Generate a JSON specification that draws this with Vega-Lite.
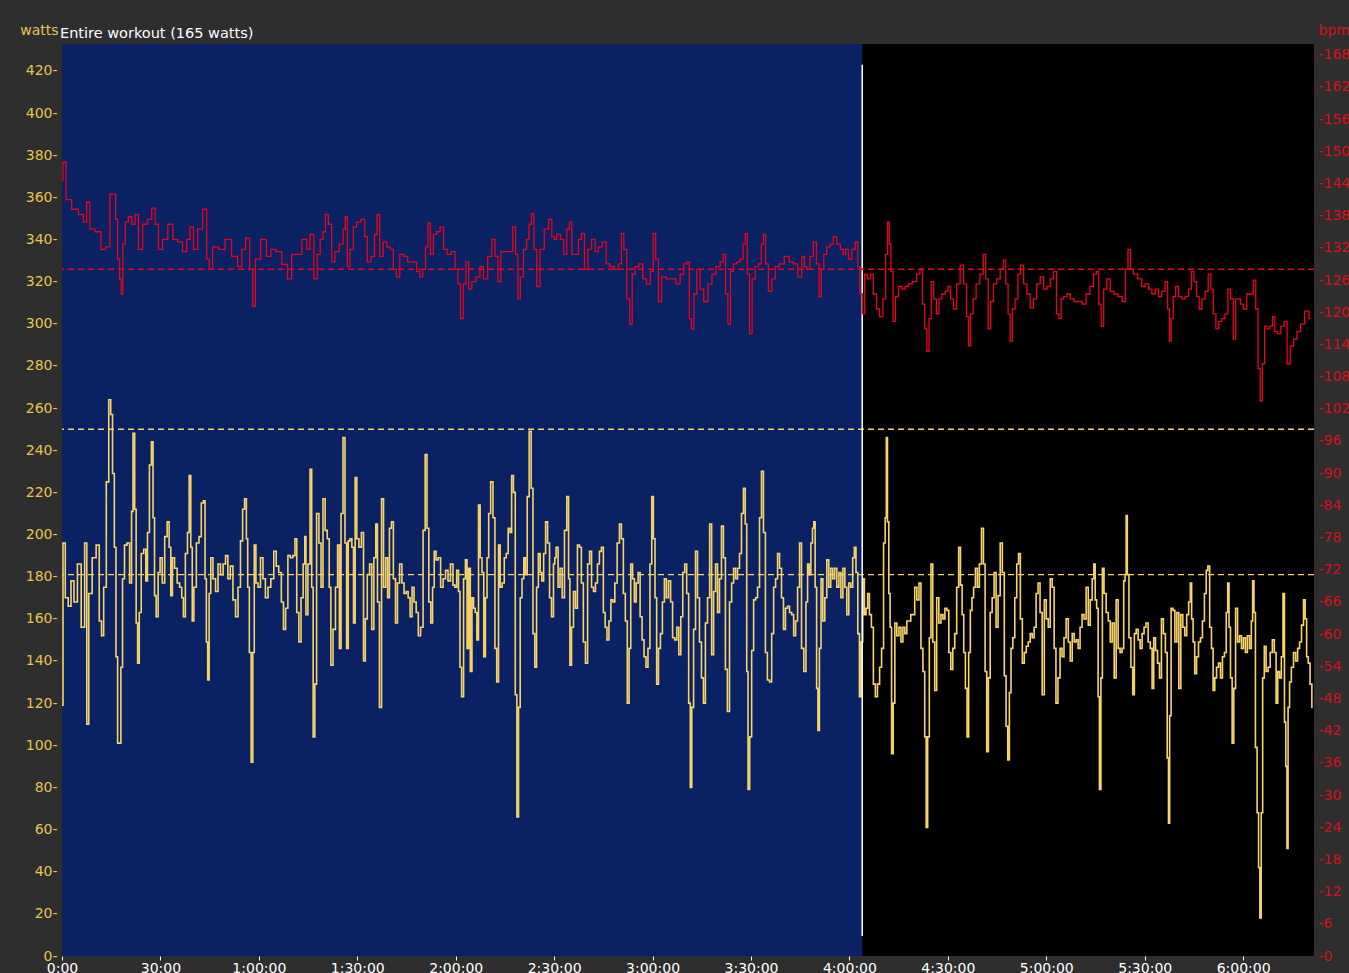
{
"$schema":"https://vega.github.io/schema/vega-lite/v6.json",
"width":1252,"height":912,
"autosize":{"type":"none"},
"padding":{"left":62,"top":44,"right":35,"bottom":17},
"background":"#2e2e2e",
"config":{"view":{"fill":"#000000","stroke":null},"font":"DejaVu Sans",
 "axisX":{"domain":false,"grid":false,"tickColor":"#ffffff","tickSize":4,"labelColor":"#ffffff","labelFontSize":14,"labelFont":"DejaVu Sans","labelPadding":1,"labelOverlap":false,"labelFlush":false},
 "axisY":{"domain":false,"grid":false,"ticks":false,"labelFontSize":14,"labelFont":"DejaVu Sans","labelOverlap":false,"labelFlush":false,"titleAngle":0,"titleBaseline":"middle","titleY":-14,"titleFontSize":14,"titleFontWeight":"normal","titleFont":"DejaVu Sans","titlePadding":0}
},
"title":{"text":"Entire workout (165 watts)","anchor":"start","frame":"group","color":"#ffffff","fontSize":14.5,"fontWeight":"normal","font":"DejaVu Sans","offset":5,"dx":-2,"dy":23},
"datasets":{
"pw":[
{"t":0,"w":119},{"t":0.6,"w":196},{"t":1.4,"w":170},{"t":2.4,"w":166},{"t":3.1,"w":178},{"t":4.2,"w":168},{"t":5.2,"w":186},{"t":6.5,"w":156},{"t":7.3,"w":196},{"t":7.8,"w":110},{"t":8.5,"w":172},{"t":9.9,"w":189},{"t":10.9,"w":195},{"t":11.8,"w":159},{"t":12.3,"w":152},{"t":13.1,"w":175},{"t":13.9,"w":225},{"t":14.6,"w":264},{"t":15.1,"w":257},{"t":15.7,"w":229},{"t":16.2,"w":194},{"t":16.7,"w":142},{"t":17.2,"w":101},{"t":17.7,"w":101},{"t":18.2,"w":137},{"t":18.7,"w":179},{"t":19.4,"w":195},{"t":20.2,"w":196},{"t":21.0,"w":177},{"t":21.4,"w":211},{"t":21.9,"w":248},{"t":22.4,"w":212},{"t":22.8,"w":158},{"t":23.3,"w":139},{"t":23.8,"w":163},{"t":24.5,"w":191},{"t":25.3,"w":193},{"t":25.8,"w":178},{"t":26.3,"w":201},{"t":27.0,"w":233},{"t":27.5,"w":244},{"t":28.0,"w":208},{"t":28.4,"w":171},{"t":29.0,"w":161},{"t":29.6,"w":182},{"t":30.2,"w":189},{"t":30.9,"w":177},{"t":31.7,"w":199},{"t":32.4,"w":206},{"t":32.9,"w":194},{"t":33.4,"w":171},{"t":33.9,"w":189},{"t":34.7,"w":184},{"t":35.5,"w":177},{"t":36.2,"w":175},{"t":36.8,"w":170},{"t":37.2,"w":161},{"t":38.0,"w":191},{"t":38.5,"w":201},{"t":39.0,"w":228},{"t":39.5,"w":194},{"t":39.9,"w":159},{"t":40.5,"w":175},{"t":41.4,"w":196},{"t":42.1,"w":199},{"t":42.8,"w":215},{"t":43.4,"w":216},{"t":43.8,"w":179},{"t":44.2,"w":149},{"t":44.6,"w":131},{"t":45.1,"w":172},{"t":45.6,"w":189},{"t":46.4,"w":179},{"t":47.2,"w":173},{"t":47.9,"w":186},{"t":48.7,"w":181},{"t":49.5,"w":186},{"t":50.2,"w":190},{"t":50.9,"w":179},{"t":51.7,"w":185},{"t":52.5,"w":169},{"t":53.3,"w":161},{"t":54.0,"w":175},{"t":54.8,"w":197},{"t":55.3,"w":212},{"t":56.0,"w":217},{"t":56.4,"w":198},{"t":56.8,"w":175},{"t":57.4,"w":144},{"t":57.9,"w":92},{"t":58.4,"w":144},{"t":58.8,"w":195},{"t":59.4,"w":177},{"t":60.1,"w":175},{"t":60.9,"w":189},{"t":61.6,"w":179},{"t":62.4,"w":170},{"t":63.2,"w":175},{"t":64.1,"w":179},{"t":65.0,"w":192},{"t":65.6,"w":185},{"t":66.5,"w":182},{"t":67.2,"w":168},{"t":67.8,"w":155},{"t":68.5,"w":165},{"t":69.2,"w":190},{"t":70.0,"w":189},{"t":70.7,"w":190},{"t":71.3,"w":198},{"t":71.8,"w":163},{"t":72.6,"w":149},{"t":73.1,"w":170},{"t":73.9,"w":186},
{"t":74.1,"w":199},{"t":74.6,"w":162},{"t":75.3,"w":186},{"t":75.9,"w":231},{"t":76.3,"w":175},{"t":76.8,"w":104},{"t":77.3,"w":129},{"t":77.9,"w":210},{"t":78.7,"w":196},{"t":79.2,"w":175},{"t":79.9,"w":217},{"t":80.5,"w":202},{"t":81.2,"w":198},{"t":81.7,"w":175},{"t":82.2,"w":138},{"t":83.0,"w":155},{"t":83.7,"w":175},{"t":84.3,"w":195},{"t":84.8,"w":146},{"t":85.3,"w":210},{"t":86.0,"w":246},{"t":86.5,"w":196},{"t":87.0,"w":146},{"t":87.5,"w":197},{"t":88.1,"w":198},{"t":88.6,"w":194},{"t":89.1,"w":158},{"t":89.6,"w":227},{"t":90.1,"w":198},{"t":90.9,"w":194},{"t":91.6,"w":201},{"t":92.2,"w":140},{"t":92.7,"w":160},{"t":93.4,"w":181},{"t":94.1,"w":186},{"t":94.7,"w":155},{"t":95.4,"w":189},{"t":95.9,"w":205},{"t":96.4,"w":168},{"t":97.1,"w":118},{"t":97.7,"w":217},{"t":98.3,"w":175},{"t":99.0,"w":189},{"t":99.5,"w":170},{"t":100.1,"w":203},{"t":100.7,"w":206},{"t":101.3,"w":179},{"t":102.0,"w":158},{"t":102.5,"w":177},{"t":103.3,"w":186},{"t":103.9,"w":177},{"t":104.6,"w":172},{"t":105.2,"w":173},{"t":105.8,"w":170},{"t":106.4,"w":161},{"t":107.0,"w":175},{"t":107.6,"w":168},{"t":108.3,"w":163},{"t":108.9,"w":152},{"t":109.7,"w":156},{"t":110.4,"w":202},{"t":111.0,"w":238},{"t":111.5,"w":203},{"t":112.1,"w":168},{"t":112.7,"w":158},{"t":113.2,"w":175},{"t":113.7,"w":192},{"t":114.3,"w":188},{"t":115.0,"w":189},{"t":115.8,"w":175},{"t":116.5,"w":179},{"t":117.3,"w":183},{"t":118.0,"w":178},{"t":118.8,"w":186},{"t":119.5,"w":176},{"t":120.0,"w":175},{"t":120.6,"w":183},{"t":121.1,"w":173},{"t":121.5,"w":137},{"t":122.1,"w":123},{"t":122.7,"w":179},{"t":123.2,"w":188},{"t":123.7,"w":146},{"t":124.2,"w":184},{"t":124.7,"w":135},{"t":125.2,"w":170},{"t":125.7,"w":165},{"t":126.2,"w":163},{"t":126.7,"w":150},{"t":127.2,"w":214},{"t":127.7,"w":189},{"t":128.3,"w":182},{"t":128.8,"w":142},{"t":129.3,"w":170},{"t":129.8,"w":189},{"t":130.3,"w":210},{"t":131.0,"w":225},{"t":131.7,"w":208},{"t":132.2,"w":146},{"t":132.8,"w":130},{"t":133.3,"w":195},{"t":133.8,"w":175},{"t":134.5,"w":177},{"t":135.1,"w":189},{"t":135.7,"w":191},{"t":136.3,"w":203},{"t":136.8,"w":201},{"t":137.3,"w":228},{"t":137.9,"w":220},{"t":138.4,"w":124},{"t":138.9,"w":66},{"t":139.4,"w":118},{"t":139.9,"w":170},{"t":140.5,"w":179},{"t":141.0,"w":189},{"t":141.5,"w":181},{"t":142.1,"w":218},{"t":142.7,"w":249},{"t":143.3,"w":222},{"t":143.8,"w":153},{"t":144.4,"w":137},{"t":144.9,"w":175},{"t":145.5,"w":191},{"t":146.0,"w":182},{"t":146.5,"w":178},{"t":147.1,"w":191},{"t":147.7,"w":206},{"t":148.3,"w":196},{"t":148.9,"w":170},{"t":149.5,"w":161},{"t":150.1,"w":186},
{"t":150.3,"w":189},{"t":150.9,"w":194},{"t":151.5,"w":175},{"t":152.1,"w":184},{"t":152.8,"w":170},{"t":153.5,"w":202},{"t":154.2,"w":218},{"t":154.6,"w":179},{"t":155.0,"w":138},{"t":155.6,"w":156},{"t":156.2,"w":173},{"t":156.8,"w":165},{"t":157.4,"w":195},{"t":158.0,"w":194},{"t":158.6,"w":177},{"t":159.2,"w":149},{"t":159.9,"w":139},{"t":160.5,"w":186},{"t":161.1,"w":192},{"t":161.7,"w":175},{"t":162.3,"w":173},{"t":162.9,"w":177},{"t":163.5,"w":186},{"t":164.1,"w":192},{"t":164.7,"w":194},{"t":165.3,"w":163},{"t":165.8,"w":156},{"t":166.4,"w":150},{"t":167.0,"w":159},{"t":167.6,"w":169},{"t":168.2,"w":168},{"t":168.8,"w":177},{"t":169.6,"w":196},{"t":170.2,"w":205},{"t":170.8,"w":198},{"t":171.4,"w":172},{"t":172.0,"w":159},{"t":172.6,"w":120},{"t":173.1,"w":146},{"t":173.6,"w":186},{"t":174.2,"w":179},{"t":174.7,"w":168},{"t":175.3,"w":177},{"t":175.9,"w":182},{"t":176.5,"w":161},{"t":177.1,"w":150},{"t":177.7,"w":142},{"t":178.3,"w":137},{"t":178.9,"w":146},{"t":179.5,"w":186},{"t":180.0,"w":218},{"t":180.5,"w":198},{"t":181.0,"w":170},{"t":181.5,"w":129},{"t":182.1,"w":146},{"t":182.7,"w":153},{"t":183.3,"w":168},{"t":183.9,"w":179},{"t":184.5,"w":170},{"t":185.2,"w":178},{"t":185.8,"w":168},{"t":186.4,"w":151},{"t":187.1,"w":150},{"t":187.7,"w":156},{"t":188.3,"w":143},{"t":188.9,"w":161},{"t":189.5,"w":182},{"t":190.1,"w":186},{"t":190.7,"w":172},{"t":191.3,"w":120},{"t":191.7,"w":80},{"t":192.2,"w":118},{"t":192.8,"w":155},{"t":193.4,"w":192},{"t":194.0,"w":170},{"t":194.6,"w":149},{"t":195.2,"w":132},{"t":195.8,"w":120},{"t":196.4,"w":158},{"t":197.1,"w":170},{"t":197.7,"w":205},{"t":198.3,"w":143},{"t":198.9,"w":173},{"t":199.5,"w":186},{"t":200.1,"w":163},{"t":200.7,"w":179},{"t":201.3,"w":204},{"t":201.9,"w":189},{"t":202.5,"w":136},{"t":203.1,"w":116},{"t":203.8,"w":168},{"t":204.4,"w":177},{"t":205.0,"w":184},{"t":205.6,"w":179},{"t":206.2,"w":184},{"t":206.8,"w":191},{"t":207.4,"w":210},{"t":208.0,"w":222},{"t":208.5,"w":205},{"t":208.9,"w":135},{"t":209.3,"w":79},{"t":209.9,"w":104},{"t":210.5,"w":145},{"t":211.1,"w":169},{"t":211.7,"w":170},{"t":212.3,"w":175},{"t":212.9,"w":208},{"t":213.5,"w":230},{"t":214.1,"w":201},{"t":214.7,"w":144},{"t":215.3,"w":131},{"t":216.0,"w":130},{"t":216.6,"w":153},{"t":217.2,"w":175},{"t":217.8,"w":179},{"t":218.4,"w":191},{"t":219.0,"w":184},{"t":219.6,"w":170},{"t":220.2,"w":155},{"t":220.8,"w":165},{"t":221.4,"w":166},{"t":222.1,"w":163},{"t":222.7,"w":162},{"t":223.3,"w":152},{"t":223.9,"w":159},{"t":224.5,"w":175},{"t":225.1,"w":196},{"t":225.7,"w":146},
{"t":226.5,"w":135},{"t":227.0,"w":168},{"t":227.5,"w":186},{"t":228.0,"w":181},{"t":228.5,"w":196},{"t":229.0,"w":203},{"t":229.3,"w":206},{"t":229.8,"w":175},{"t":230.2,"w":127},{"t":230.6,"w":107},{"t":231.1,"w":146},{"t":231.6,"w":179},{"t":232.2,"w":159},{"t":232.8,"w":170},{"t":233.4,"w":188},{"t":234.0,"w":175},{"t":234.6,"w":184},{"t":235.2,"w":179},{"t":235.8,"w":184},{"t":236.5,"w":175},{"t":237.1,"w":182},{"t":237.7,"w":170},{"t":238.3,"w":184},{"t":238.9,"w":175},{"t":239.5,"w":162},{"t":240.1,"w":177},{"t":240.7,"w":175},{"t":241.3,"w":189},{"t":241.7,"w":194},{"t":242.3,"w":182},{"t":242.8,"w":153},{"t":243.3,"w":123},{"t":243.8,"w":149},{"t":244.3,"w":179},{"t":244.8,"w":162},{"t":245.3,"w":165},{"t":245.8,"w":172},{"t":246.4,"w":162},{"t":247.0,"w":156},{"t":247.6,"w":129},{"t":248.2,"w":123},{"t":248.9,"w":129},{"t":249.5,"w":137},{"t":250.1,"w":146},{"t":250.7,"w":196},{"t":251.1,"w":208},{"t":251.4,"w":246},{"t":251.8,"w":206},{"t":252.2,"w":172},{"t":252.6,"w":156},{"t":253.1,"w":96},{"t":253.6,"w":120},{"t":254.1,"w":158},{"t":254.8,"w":152},{"t":255.4,"w":156},{"t":256.0,"w":149},{"t":256.6,"w":156},{"t":257.2,"w":153},{"t":257.8,"w":159},{"t":258.4,"w":159},{"t":259.0,"w":162},{"t":259.6,"w":162},{"t":260.2,"w":175},{"t":260.9,"w":169},{"t":261.5,"w":177},{"t":262.1,"w":146},{"t":262.7,"w":135},{"t":263.2,"w":104},{"t":263.6,"w":61},{"t":264.1,"w":104},{"t":264.6,"w":151},{"t":265.1,"w":186},{"t":265.7,"w":149},{"t":266.3,"w":126},{"t":266.9,"w":170},{"t":267.6,"w":158},{"t":268.2,"w":162},{"t":268.8,"w":160},{"t":269.4,"w":165},{"t":270.0,"w":164},{"t":270.6,"w":144},{"t":271.2,"w":136},{"t":271.8,"w":146},{"t":272.4,"w":153},{"t":273.0,"w":175},{"t":273.6,"w":194},{"t":274.1,"w":176},{"t":274.6,"w":162},{"t":275.1,"w":144},{"t":275.6,"w":127},{"t":276.1,"w":104},{"t":276.6,"w":144},{"t":277.1,"w":164},{"t":277.6,"w":170},{"t":278.1,"w":175},{"t":278.7,"w":184},{"t":279.3,"w":175},{"t":279.9,"w":186},{"t":280.6,"w":203},{"t":281.1,"w":186},{"t":281.6,"w":135},{"t":282.1,"w":97},{"t":282.6,"w":132},{"t":283.2,"w":163},{"t":283.8,"w":170},{"t":284.4,"w":182},{"t":285.0,"w":156},{"t":285.6,"w":171},{"t":286.3,"w":196},{"t":286.9,"w":182},{"t":287.5,"w":133},{"t":288.0,"w":109},{"t":288.5,"w":93},{"t":289.0,"w":125},{"t":289.5,"w":146},{"t":290.1,"w":151},{"t":290.7,"w":170},{"t":291.3,"w":186},{"t":291.8,"w":191},{"t":292.4,"w":160},{"t":293.0,"w":139},{"t":293.6,"w":144},{"t":294.2,"w":147},{"t":294.8,"w":149},{"t":295.4,"w":153},{"t":296.0,"w":151},{"t":296.6,"w":156},{"t":297.2,"w":172},{"t":297.8,"w":177},{"t":298.4,"w":163},{"t":299.1,"w":124},{"t":299.7,"w":169},{"t":300.3,"w":160},{"t":300.9,"w":156},{"t":301.5,"w":179},{"t":302.1,"w":175},
{"t":302.7,"w":146},{"t":303.2,"w":120},{"t":303.9,"w":132},{"t":304.5,"w":146},{"t":305.1,"w":142},{"t":305.7,"w":151},{"t":306.4,"w":160},{"t":307.0,"w":149},{"t":307.6,"w":140},{"t":308.2,"w":153},{"t":308.8,"w":149},{"t":309.4,"w":150},{"t":310.0,"w":146},{"t":310.6,"w":156},{"t":311.2,"w":162},{"t":311.8,"w":160},{"t":312.5,"w":175},{"t":313.1,"w":157},{"t":313.7,"w":169},{"t":314.3,"w":179},{"t":314.7,"w":186},{"t":315.1,"w":169},{"t":315.6,"w":165},{"t":316.0,"w":123},{"t":316.4,"w":79},{"t":316.9,"w":132},{"t":317.3,"w":184},{"t":317.9,"w":172},{"t":318.6,"w":163},{"t":319.2,"w":159},{"t":319.8,"w":149},{"t":320.4,"w":158},{"t":321.0,"w":132},{"t":321.6,"w":169},{"t":322.2,"w":146},{"t":322.8,"w":144},{"t":323.4,"w":146},{"t":323.8,"w":178},{"t":324.2,"w":181},{"t":324.5,"w":209},{"t":324.9,"w":181},{"t":325.5,"w":151},{"t":326.1,"w":137},{"t":326.6,"w":124},{"t":327.1,"w":153},{"t":327.7,"w":155},{"t":328.3,"w":150},{"t":328.9,"w":146},{"t":329.5,"w":153},{"t":330.1,"w":156},{"t":330.7,"w":158},{"t":331.4,"w":149},{"t":332.0,"w":146},{"t":332.5,"w":127},{"t":333.0,"w":151},{"t":333.6,"w":145},{"t":334.2,"w":139},{"t":334.8,"w":132},{"t":335.4,"w":160},{"t":336.0,"w":153},{"t":336.6,"w":144},{"t":337.1,"w":94},{"t":337.4,"w":63},{"t":337.8,"w":114},{"t":338.3,"w":165},{"t":338.9,"w":164},{"t":339.5,"w":149},{"t":340.1,"w":163},{"t":340.7,"w":127},{"t":341.3,"w":162},{"t":341.9,"w":156},{"t":342.5,"w":152},{"t":343.1,"w":162},{"t":343.7,"w":168},{"t":344.1,"w":177},{"t":344.5,"w":160},{"t":345.0,"w":149},{"t":345.5,"w":134},{"t":346.1,"w":142},{"t":346.7,"w":149},{"t":347.3,"w":151},{"t":347.9,"w":159},{"t":348.5,"w":172},{"t":349.0,"w":183},{"t":349.5,"w":185},{"t":350.1,"w":156},{"t":350.6,"w":146},{"t":351.1,"w":126},{"t":351.6,"w":132},{"t":352.2,"w":137},{"t":352.8,"w":139},{"t":353.4,"w":132},{"t":354.0,"w":142},{"t":354.6,"w":144},{"t":355.1,"w":163},{"t":355.5,"w":177},{"t":355.9,"w":156},{"t":356.4,"w":132},{"t":356.9,"w":101},{"t":357.4,"w":127},{"t":358.0,"w":165},{"t":358.6,"w":149},{"t":359.2,"w":152},{"t":359.8,"w":146},{"t":360.4,"w":151},{"t":361.0,"w":144},{"t":361.6,"w":152},{"t":362.3,"w":146},{"t":362.7,"w":159},{"t":363.1,"w":178},{"t":363.5,"w":163},{"t":364.0,"w":99},{"t":364.5,"w":68},{"t":364.9,"w":42},{"t":365.3,"w":18},{"t":365.7,"w":68},{"t":366.2,"w":132},{"t":366.7,"w":147},{"t":367.3,"w":135},{"t":367.9,"w":137},{"t":368.6,"w":144},{"t":369.2,"w":150},{"t":369.8,"w":144},{"t":370.3,"w":120},{"t":370.8,"w":135},{"t":371.4,"w":132},{"t":371.9,"w":142},{"t":372.4,"w":172},{"t":372.8,"w":111},{"t":373.2,"w":90},{"t":373.5,"w":51},{"t":373.9,"w":118},{"t":374.4,"w":130},{"t":375.0,"w":137},{"t":375.7,"w":144},{"t":376.3,"w":140},{"t":376.9,"w":146},{"t":377.5,"w":149},{"t":378.1,"w":157},{"t":378.7,"w":169},{"t":379.1,"w":160},{"t":379.6,"w":142},{"t":380.1,"w":139},{"t":380.7,"w":129},{"t":381.2,"w":118}
],
"hr":[
{"t":0,"b":144.7},{"t":0.6,"b":148},{"t":1.9,"b":141},{"t":4.0,"b":139.2},{"t":6.0,"b":138.2},{"t":7.0,"b":136.8},{"t":8.0,"b":140.5},{"t":9.0,"b":135.5},{"t":11.1,"b":135},{"t":12.6,"b":131.7},{"t":14.1,"b":132.2},{"t":15.1,"b":142},{"t":16.0,"b":142},{"t":16.7,"b":137.3},{"t":17.2,"b":129.9},{"t":17.9,"b":126.2},{"t":18.2,"b":123.4},{"t":18.9,"b":132.7},{"t":19.7,"b":136.8},{"t":20.7,"b":137.8},{"t":21.8,"b":136.4},{"t":22.8,"b":138.2},{"t":23.8,"b":131.7},{"t":25.3,"b":136.4},{"t":26.8,"b":137.3},{"t":27.9,"b":139.4},{"t":28.9,"b":136.4},{"t":29.9,"b":131.7},{"t":31.4,"b":133.6},{"t":33.1,"b":136.4},{"t":34.5,"b":133.6},{"t":36.0,"b":133.1},{"t":37.5,"b":131.3},{"t":38.5,"b":133.6},{"t":39.5,"b":135.9},{"t":40.6,"b":131.7},{"t":42.1,"b":135.5},{"t":43.6,"b":139.2},{"t":44.6,"b":129.9},{"t":45.1,"b":128},{"t":46.7,"b":132.2},{"t":48.7,"b":131.7},{"t":50.7,"b":133.6},{"t":52.7,"b":130.4},{"t":54.3,"b":128.5},{"t":55.3,"b":131.7},{"t":56.6,"b":133.8},{"t":57.8,"b":128},{"t":58.5,"b":121.1},{"t":59.4,"b":129.9},{"t":61.7,"b":133.6},{"t":62.9,"b":130.4},{"t":64.4,"b":131.7},{"t":66.0,"b":131.3},{"t":68.0,"b":128.9},{"t":69.5,"b":126.2},{"t":70.5,"b":130.8},{"t":72.1,"b":130.8},
{"t":74.1,"b":133.6},{"t":75.1,"b":131.7},{"t":76.1,"b":134.5},{"t":77.4,"b":126.2},{"t":78.2,"b":130.8},{"t":79.2,"b":133.6},{"t":79.9,"b":135.0},{"t":80.7,"b":138.2},{"t":81.7,"b":136.4},{"t":82.7,"b":129.4},{"t":83.7,"b":131.3},{"t":85.3,"b":132.7},{"t":86.1,"b":135.5},{"t":86.6,"b":137.8},{"t":87.3,"b":128.5},{"t":88.3,"b":131.7},{"t":89.3,"b":135.9},{"t":90.3,"b":136.8},{"t":91.9,"b":137.3},{"t":92.7,"b":134.1},{"t":93.4,"b":129.4},{"t":94.9,"b":130.4},{"t":95.6,"b":134.5},{"t":96.4,"b":138.2},{"t":97.3,"b":130.4},{"t":98.5,"b":133.1},{"t":99.5,"b":132.2},{"t":100.5,"b":131.7},{"t":101.5,"b":128.0},{"t":102.3,"b":126.6},{"t":103.6,"b":130.8},{"t":104.6,"b":130.4},{"t":106.1,"b":129.4},{"t":107.6,"b":129.4},{"t":108.6,"b":127.6},{"t":109.5,"b":126.6},{"t":110.4,"b":128.0},{"t":111.2,"b":132.2},{"t":111.9,"b":136.6},{"t":112.7,"b":130.8},{"t":113.7,"b":134.5},{"t":114.7,"b":135.0},{"t":115.8,"b":135.9},{"t":116.8,"b":131.7},{"t":118.0,"b":130.8},{"t":119.3,"b":131.3},{"t":120.3,"b":128.0},{"t":121.0,"b":125.3},{"t":121.9,"b":118.8},{"t":122.7,"b":125.3},{"t":123.5,"b":129.4},{"t":124.4,"b":124.3},{"t":125.4,"b":125.7},{"t":126.9,"b":126.6},{"t":127.9,"b":128.5},{"t":129.0,"b":126.2},{"t":130.5,"b":130.4},{"t":131.5,"b":133.6},{"t":132.5,"b":130.4},{"t":133.2,"b":125.7},{"t":134.3,"b":131.3},{"t":135.6,"b":131.3},{"t":136.9,"b":131.3},{"t":137.9,"b":135.9},{"t":138.6,"b":130.8},{"t":139.3,"b":122.5},{"t":140.1,"b":126.6},{"t":141.2,"b":131.7},{"t":142.0,"b":133.6},{"t":142.7,"b":136.4},{"t":143.5,"b":138.4},{"t":144.2,"b":131.7},{"t":145.2,"b":124.8},{"t":146.2,"b":131.7},{"t":147.8,"b":135.5},{"t":148.8,"b":137.3},{"t":149.8,"b":134.1},
{"t":150.3,"b":133.6},{"t":151.3,"b":134.5},{"t":152.5,"b":133.6},{"t":153.3,"b":130.8},{"t":154.4,"b":135.5},{"t":154.9,"b":136.8},{"t":155.9,"b":130.8},{"t":156.9,"b":130.8},{"t":157.9,"b":133.6},{"t":158.7,"b":134.7},{"t":159.8,"b":128.0},{"t":160.8,"b":131.7},{"t":162.0,"b":133.6},{"t":163.0,"b":131.3},{"t":164.0,"b":132.2},{"t":165.3,"b":133.1},{"t":166.4,"b":129.0},{"t":167.6,"b":128.5},{"t":169.1,"b":128.0},{"t":170.1,"b":129.0},{"t":170.9,"b":134.7},{"t":171.6,"b":131.7},{"t":172.7,"b":122.5},{"t":173.4,"b":117.8},{"t":174.2,"b":127.1},{"t":175.2,"b":128.5},{"t":176.5,"b":129.0},{"t":177.5,"b":126.2},{"t":178.8,"b":125.3},{"t":179.8,"b":127.6},{"t":180.6,"b":134.7},{"t":181.3,"b":129.9},{"t":182.3,"b":122.0},{"t":183.3,"b":126.6},{"t":184.9,"b":126.2},{"t":186.4,"b":126.2},{"t":187.9,"b":125.3},{"t":188.9,"b":127.1},{"t":190.1,"b":129.0},{"t":190.9,"b":129.4},{"t":191.5,"b":118.8},{"t":192.2,"b":116.9},{"t":193.0,"b":123.4},{"t":194.0,"b":128.0},{"t":195.0,"b":124.3},{"t":196.2,"b":122.0},{"t":197.6,"b":125.3},{"t":198.6,"b":127.1},{"t":200.1,"b":128.5},{"t":201.1,"b":129.4},{"t":201.9,"b":130.8},{"t":202.6,"b":123.4},{"t":203.3,"b":117.8},{"t":204.2,"b":127.6},{"t":205.2,"b":129.0},{"t":206.2,"b":129.4},{"t":207.2,"b":129.9},{"t":208.0,"b":132.7},{"t":208.5,"b":134.7},{"t":209.2,"b":127.1},{"t":209.9,"b":116.0},{"t":210.8,"b":126.2},{"t":211.8,"b":128.5},{"t":212.8,"b":129.0},{"t":213.5,"b":132.7},{"t":214.1,"b":134.5},{"t":214.8,"b":129.0},{"t":215.8,"b":123.9},{"t":216.9,"b":126.2},{"t":217.9,"b":128.5},{"t":219.4,"b":129.0},{"t":220.9,"b":130.4},{"t":222.3,"b":129.4},{"t":223.5,"b":129.0},{"t":225.0,"b":126.6},{"t":226.0,"b":130.4},
{"t":226.5,"b":128.5},{"t":227.5,"b":128.0},{"t":228.5,"b":130.4},{"t":229.5,"b":133.1},{"t":230.4,"b":129.0},{"t":231.1,"b":122.9},{"t":231.8,"b":128.0},{"t":232.6,"b":130.8},{"t":233.6,"b":132.2},{"t":234.6,"b":132.7},{"t":235.6,"b":134.1},{"t":236.7,"b":132.7},{"t":237.7,"b":131.7},{"t":238.5,"b":130.8},{"t":239.2,"b":131.7},{"t":240.2,"b":129.9},{"t":241.2,"b":131.7},{"t":242.3,"b":133.1},{"t":242.8,"b":128.5},{"t":243.6,"b":123.4},{"t":244.3,"b":119.7},{"t":245.0,"b":127.1},{"t":246.0,"b":126.2},{"t":246.8,"b":127.1},{"t":247.8,"b":123.4},{"t":248.7,"b":120.6},{"t":249.7,"b":119.2},{"t":250.7,"b":122.5},{"t":251.4,"b":130.8},{"t":251.9,"b":136.8},{"t":252.4,"b":132.7},{"t":252.9,"b":127.6},{"t":253.7,"b":118.3},{"t":254.4,"b":122.9},{"t":255.5,"b":124.8},{"t":256.5,"b":124.3},{"t":257.5,"b":124.8},{"t":258.5,"b":125.3},{"t":259.8,"b":125.7},{"t":261.1,"b":127.1},{"t":261.9,"b":128.0},{"t":262.6,"b":121.5},{"t":263.3,"b":116.9},{"t":263.9,"b":112.7},{"t":264.6,"b":118.8},{"t":265.3,"b":125.7},{"t":266.1,"b":122.5},{"t":266.9,"b":119.7},{"t":267.7,"b":122.5},{"t":268.7,"b":123.4},{"t":269.7,"b":123.9},{"t":270.4,"b":124.8},{"t":271.2,"b":122.5},{"t":272.2,"b":120.6},{"t":273.2,"b":125.3},{"t":274.3,"b":128.8},{"t":275.3,"b":125.3},{"t":276.1,"b":119.2},{"t":276.5,"b":113.7},{"t":277.3,"b":119.7},{"t":278.1,"b":122.5},{"t":279.1,"b":125.3},{"t":280.4,"b":127.1},{"t":281.2,"b":130.8},{"t":281.9,"b":126.2},{"t":282.7,"b":116.9},{"t":283.4,"b":122.0},{"t":284.4,"b":125.3},{"t":285.4,"b":126.2},{"t":286.5,"b":128.0},{"t":287.3,"b":129.7},{"t":288.0,"b":125.3},{"t":288.7,"b":119.7},{"t":289.3,"b":114.6},{"t":290.0,"b":120.6},{"t":291.0,"b":122.5},{"t":291.7,"b":127.1},{"t":292.6,"b":128.8},{"t":293.6,"b":125.3},{"t":294.6,"b":123.4},{"t":295.6,"b":120.8},{"t":296.6,"b":122.5},{"t":297.6,"b":125.3},{"t":298.7,"b":126.6},{"t":299.7,"b":124.3},{"t":300.7,"b":124.8},{"t":301.7,"b":126.2},
{"t":302.7,"b":127.6},{"t":303.5,"b":119.7},{"t":304.2,"b":118.8},{"t":304.9,"b":122.5},{"t":305.7,"b":122.9},{"t":306.8,"b":123.4},{"t":307.8,"b":122.5},{"t":309.0,"b":122.0},{"t":310.3,"b":122.0},{"t":311.6,"b":121.5},{"t":312.7,"b":123.4},{"t":313.9,"b":124.8},{"t":314.9,"b":127.1},{"t":315.6,"b":127.6},{"t":316.4,"b":121.5},{"t":317.1,"b":117.4},{"t":317.9,"b":124.3},{"t":319.0,"b":126.2},{"t":320.0,"b":123.9},{"t":321.2,"b":123.4},{"t":322.5,"b":122.9},{"t":323.8,"b":122.0},{"t":324.5,"b":128.0},{"t":325.3,"b":131.7},{"t":326.0,"b":128.0},{"t":327.1,"b":127.1},{"t":328.6,"b":126.2},{"t":329.6,"b":124.8},{"t":330.6,"b":125.3},{"t":331.7,"b":124.3},{"t":332.7,"b":123.4},{"t":333.7,"b":124.3},{"t":334.7,"b":122.9},{"t":335.7,"b":123.9},{"t":336.7,"b":125.7},{"t":337.3,"b":120.6},{"t":337.8,"b":114.6},{"t":338.3,"b":118.8},{"t":339.1,"b":122.9},{"t":339.8,"b":124.8},{"t":340.8,"b":122.9},{"t":341.8,"b":122.5},{"t":342.8,"b":122.9},{"t":343.9,"b":124.3},{"t":344.6,"b":127.6},{"t":345.4,"b":125.7},{"t":346.2,"b":122.9},{"t":347.0,"b":120.6},{"t":347.9,"b":122.5},{"t":348.9,"b":123.9},{"t":349.8,"b":127.1},{"t":350.5,"b":124.3},{"t":351.3,"b":119.7},{"t":352.1,"b":116.9},{"t":353.0,"b":118.3},{"t":354.0,"b":118.8},{"t":355.0,"b":119.7},{"t":355.7,"b":124.3},{"t":356.6,"b":122.5},{"t":357.4,"b":115.0},{"t":358.1,"b":122.5},{"t":358.8,"b":122.5},{"t":359.6,"b":121.5},{"t":360.6,"b":120.6},{"t":361.6,"b":123.4},{"t":362.7,"b":123.4},{"t":363.5,"b":126.0},{"t":364.2,"b":120.6},{"t":364.9,"b":109.5},{"t":365.5,"b":103.5},{"t":366.2,"b":110.4},{"t":366.9,"b":117.4},{"t":367.7,"b":116.9},{"t":368.6,"b":117.4},{"t":369.3,"b":119.2},{"t":370.0,"b":116.4},{"t":371.0,"b":116.0},{"t":372.0,"b":117.4},{"t":373.0,"b":118.3},{"t":373.8,"b":110.4},{"t":374.9,"b":113.7},{"t":375.9,"b":115.0},{"t":376.9,"b":116.4},{"t":378.1,"b":117.8},{"t":379.4,"b":120.2},{"t":380.7,"b":118.8}
],
"bg":[{"a":0,"b":243.9}]
},
"layer":[
{"layer":[
{"data":{"name":"bg"},"mark":{"type":"rect","color":"#0a2163"},
 "encoding":{"x":{"field":"a","type":"quantitative","scale":{"domain":[0,381.6]},
   "axis":{"values":[0,30,60,90,120,150,180,210,240,270,300,330,360],"labelExpr":"datum.value < 60 ? datum.value + ':00' : floor(datum.value/60) + ':' + (datum.value % 60 == 0 ? '00' : datum.value % 60) + ':00'","title":null}},
  "x2":{"field":"b"}}},
{"data":{"name":"pw"},"mark":{"type":"line","color":"#f8d468","strokeWidth":1.6,"interpolate":"step"},
 "encoding":{"x":{"field":"t","type":"quantitative","scale":{"domain":[0,381.6]},
   "axis":{"values":[0,30,60,90,120,150,180,210,240,270,300,330,360],"labelExpr":"datum.value < 60 ? datum.value + ':00' : floor(datum.value/60) + ':' + (datum.value % 60 == 0 ? '00' : datum.value % 60) + ':00'","title":null}},
  "y":{"field":"w","type":"quantitative","scale":{"domain":[0,432.8]},
   "axis":{"values":[0,20,40,60,80,100,120,140,160,180,200,220,240,260,280,300,320,340,360,380,400,420],"labelExpr":"datum.label + '-'","labelPadding":5,"title":"watts","titleAlign":"right","titleX":-4,"titleColor":"#e8c44e","labelColor":"#e8c44e"}}}},
{"data":{"values":[{}]},"mark":{"type":"rule","color":"#f8d468","strokeDash":[6,4],"strokeWidth":1.4},
 "encoding":{"y":{"datum":250,"type":"quantitative","scale":{"domain":[0,432.8]},
   "axis":{"values":[0,20,40,60,80,100,120,140,160,180,200,220,240,260,280,300,320,340,360,380,400,420],"labelExpr":"datum.label + '-'","labelPadding":5,"title":"watts","titleAlign":"right","titleX":-4,"titleColor":"#e8c44e","labelColor":"#e8c44e"}}}},
{"data":{"values":[{}]},"mark":{"type":"rule","color":"#f8d468","strokeDash":[6,4],"strokeWidth":1.4},
 "encoding":{"y":{"datum":181,"type":"quantitative","scale":{"domain":[0,432.8]},
   "axis":{"values":[0,20,40,60,80,100,120,140,160,180,200,220,240,260,280,300,320,340,360,380,400,420],"labelExpr":"datum.label + '-'","labelPadding":5,"title":"watts","titleAlign":"right","titleX":-4,"titleColor":"#e8c44e","labelColor":"#e8c44e"}}}},
{"data":{"values":[{}]},"mark":{"type":"rule","color":"#ffffff","strokeWidth":1.5},
 "encoding":{"x":{"datum":243.9,"type":"quantitative","scale":{"domain":[0,381.6]},
   "axis":{"values":[0,30,60,90,120,150,180,210,240,270,300,330,360],"labelExpr":"datum.value < 60 ? datum.value + ':00' : floor(datum.value/60) + ':' + (datum.value % 60 == 0 ? '00' : datum.value % 60) + ':00'","title":null}},
  "y":{"datum":9.5,"type":"quantitative","scale":{"domain":[0,432.8]},
   "axis":{"values":[0,20,40,60,80,100,120,140,160,180,200,220,240,260,280,300,320,340,360,380,400,420],"labelExpr":"datum.label + '-'","labelPadding":5,"title":"watts","titleAlign":"right","titleX":-4,"titleColor":"#e8c44e","labelColor":"#e8c44e"}},
  "y2":{"datum":423}}}
]},
{"layer":[
{"data":{"name":"hr"},"mark":{"type":"line","color":"#e4061c","strokeWidth":1.3,"interpolate":"step"},
 "encoding":{"x":{"field":"t","type":"quantitative","scale":{"domain":[0,381.6]},
   "axis":{"values":[0,30,60,90,120,150,180,210,240,270,300,330,360],"labelExpr":"datum.value < 60 ? datum.value + ':00' : floor(datum.value/60) + ':' + (datum.value % 60 == 0 ? '00' : datum.value % 60) + ':00'","title":null}},
  "y":{"field":"b","type":"quantitative","scale":{"domain":[0,170]},
   "axis":{"orient":"right","values":[0,6,12,18,24,30,36,42,48,54,60,66,72,78,84,90,96,102,108,114,120,126,132,138,144,150,156,162,168],"labelExpr":"'-' + datum.label","labelPadding":4,"title":"bpm","titleAlign":"left","titleX":4,"titleColor":"#d8101c","labelColor":"#d8101c"}}}},
{"data":{"values":[{}]},"mark":{"type":"rule","color":"#e4061c","strokeDash":[6,4],"strokeWidth":1.4},
 "encoding":{"y":{"datum":128,"type":"quantitative","scale":{"domain":[0,170]},
   "axis":{"orient":"right","values":[0,6,12,18,24,30,36,42,48,54,60,66,72,78,84,90,96,102,108,114,120,126,132,138,144,150,156,162,168],"labelExpr":"'-' + datum.label","labelPadding":4,"title":"bpm","titleAlign":"left","titleX":4,"titleColor":"#d8101c","labelColor":"#d8101c"}}}}
]}
],
"resolve":{"scale":{"y":"independent"},"axis":{"y":"independent"}}
}
